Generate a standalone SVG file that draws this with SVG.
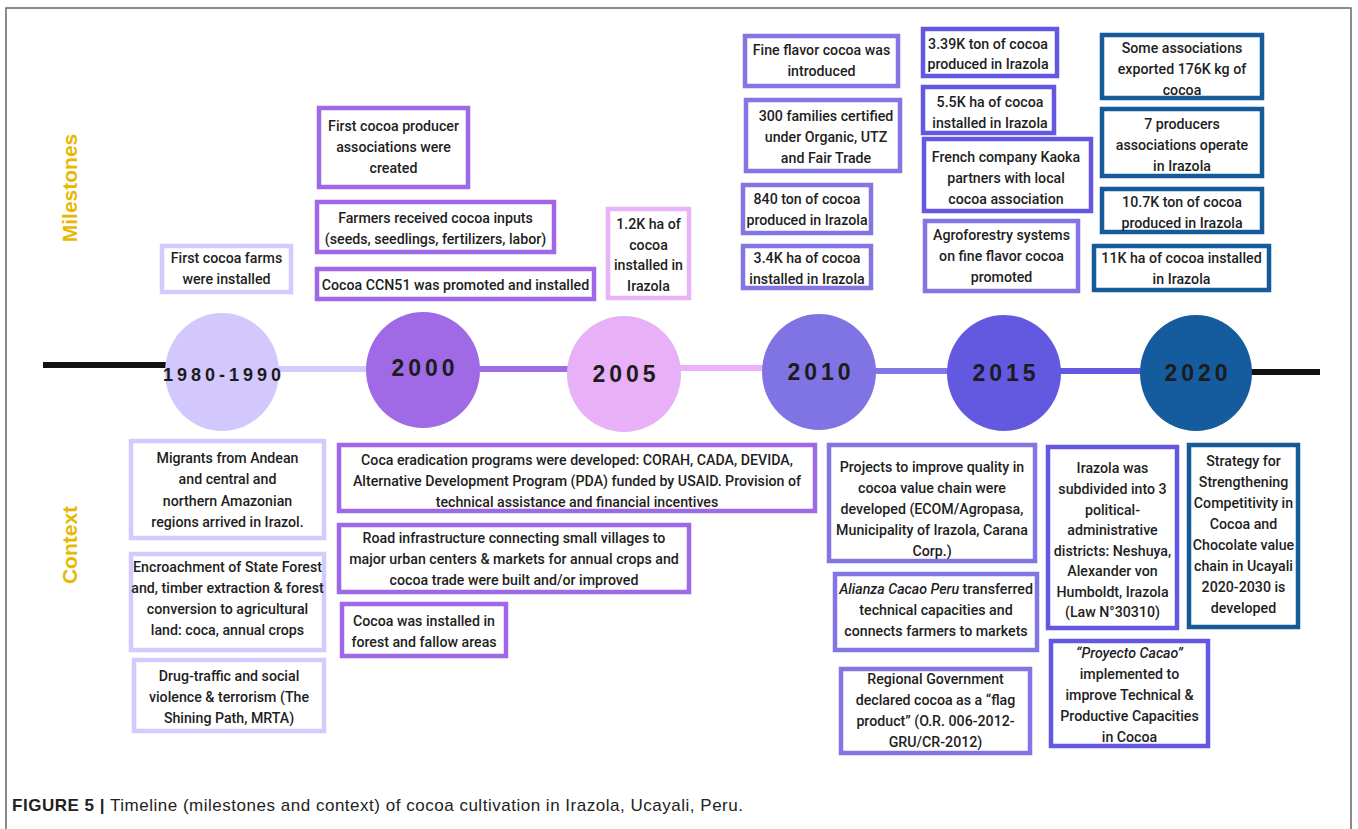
<svg xmlns="http://www.w3.org/2000/svg" width="1358" height="829" viewBox="0 0 1358 829">
<style>
.t{font-family:Roboto,"Liberation Sans",sans-serif;font-size:14.2px;font-weight:500;fill:#1e1e1e;text-anchor:middle}
.b{fill:#fff;stroke-width:4.5}
.lav{stroke:#d4cafd}.p00{stroke:#9f68e6}.pk{stroke:#e9b3f7}.p10{stroke:#8276e4}.p15{stroke:#6457e2}.bl{stroke:#155b99}
.yr{font-family:"Liberation Sans",Arial,sans-serif;font-weight:700;fill:#1c1c1c;text-anchor:middle;letter-spacing:4px}
.side{font-family:"Liberation Sans",Arial,sans-serif;font-weight:700;font-size:21px;fill:#e7b800;text-anchor:middle}
.cap{font-family:"Liberation Sans",Arial,sans-serif;font-size:17px;fill:#222}
</style>
<defs>
<clipPath id="clipC2"><rect x="131" y="554" width="194" height="96"/></clipPath>
</defs>
<rect x="6" y="8" width="1345" height="840" fill="none" stroke="#666" stroke-width="1.5"/>
<text class="side" transform="translate(77,188) rotate(-90)">Milestones</text>
<text class="side" transform="translate(77,545) rotate(-90)">Context</text>

<g id="connectors" stroke-width="6" fill="none">
<line x1="43" y1="365" x2="172" y2="365" stroke="#111"/>
<line x1="272" y1="369" x2="372" y2="369" stroke="#d4cafd"/>
<line x1="472" y1="369" x2="574" y2="369" stroke="#a06ae6"/>
<line x1="674" y1="368" x2="768" y2="368" stroke="#e9b3f7"/>
<line x1="870" y1="371" x2="952" y2="371" stroke="#8276e4"/>
<line x1="1055" y1="371" x2="1146" y2="371" stroke="#6457e2"/>
<line x1="1246" y1="372" x2="1320" y2="372" stroke="#111"/>
</g>

<g id="y1980"><ellipse cx="222" cy="372" rx="57" ry="59" fill="#d3c8fe"/><text class="yr" x="224" y="381" font-size="18" letter-spacing="3">1980-1990</text></g>
<g id="y2000"><ellipse cx="423" cy="370" rx="57" ry="58" fill="#a06ae6"/><text class="yr" x="425" y="376" font-size="23">2000</text></g>
<g id="y2005"><ellipse cx="624" cy="374" rx="57" ry="58" fill="#e8b0f7"/><text class="yr" x="626" y="382" font-size="23">2005</text></g>
<g id="y2010"><ellipse cx="819" cy="372" rx="57" ry="58" fill="#8074e4"/><text class="yr" x="821" y="380" font-size="23">2010</text></g>
<g id="y2015"><ellipse cx="1004" cy="373" rx="57" ry="58" fill="#6358e0"/><text class="yr" x="1006" y="381" font-size="23">2015</text></g>
<g id="y2020"><ellipse cx="1196" cy="373" rx="56" ry="58" fill="#145c9e"/><text class="yr" x="1198" y="381" font-size="23">2020</text></g>

<g id="m1"><rect class="b lav" x="162" y="246" width="129" height="46"/><text class="t"><tspan x="226.5" y="263">First cocoa farms</tspan><tspan x="226.5" y="284">were installed</tspan></text></g>
<g id="m2"><rect class="b p00" x="319" y="108" width="149" height="79"/><text class="t"><tspan x="393.5" y="131">First cocoa producer</tspan><tspan x="393.5" y="152">associations were</tspan><tspan x="393.5" y="173">created</tspan></text></g>
<g id="m3"><rect class="b p00" x="317" y="202" width="237" height="50"/><text class="t"><tspan x="435.5" y="223">Farmers received cocoa inputs</tspan><tspan x="435.5" y="244">(seeds, seedlings, fertilizers, labor)</tspan></text></g>
<g id="m4"><rect class="b p00" x="317" y="269" width="277" height="30"/><text class="t" x="455.5" y="289.5">Cocoa CCN51 was promoted and installed</text></g>
<g id="m5"><rect class="b pk" x="608" y="209" width="81" height="89"/><text class="t"><tspan x="648.5" y="228.5">1.2K ha of</tspan><tspan x="648.5" y="249.5">cocoa</tspan><tspan x="648.5" y="270">installed in</tspan><tspan x="648.5" y="291">Irazola</tspan></text></g>
<g id="m6"><rect class="b p10" x="745" y="36" width="153" height="50"/><text class="t"><tspan x="821.5" y="55">Fine flavor cocoa was</tspan><tspan x="821.5" y="76">introduced</tspan></text></g>
<g id="m7"><rect class="b p10" x="746" y="100" width="154" height="71"/><text class="t"><tspan x="826" y="121">300 families certified</tspan><tspan x="826" y="142">under Organic, UTZ</tspan><tspan x="826" y="163">and Fair Trade</tspan></text></g>
<g id="m8"><rect class="b p10" x="743" y="185" width="128" height="48"/><text class="t"><tspan x="807" y="204">840 ton of cocoa</tspan><tspan x="807" y="225">produced in Irazola</tspan></text></g>
<g id="m9"><rect class="b p10" x="743" y="246" width="128" height="42"/><text class="t"><tspan x="807" y="263">3.4K ha of cocoa</tspan><tspan x="807" y="284">installed in Irazola</tspan></text></g>
<g id="m10"><rect class="b p15" x="923" y="29" width="134" height="47"/><text class="t"><tspan x="988" y="48.5">3.39K ton of cocoa</tspan><tspan x="988" y="69">produced in Irazola</tspan></text></g>
<g id="m11"><rect class="b p15" x="923" y="87" width="131" height="46"/><text class="t"><tspan x="990" y="106.5">5.5K ha of cocoa</tspan><tspan x="990" y="127.5">installed in Irazola</tspan></text></g>
<g id="m12"><rect class="b p15" x="924" y="139" width="167" height="72"/><text class="t"><tspan x="1006" y="161.5">French company Kaoka</tspan><tspan x="1006" y="182.5">partners with local</tspan><tspan x="1006" y="203.5">cocoa association</tspan></text></g>
<g id="m13"><rect class="b p10" x="925" y="221" width="153" height="70"/><text class="t"><tspan x="1001.5" y="240">Agroforestry systems</tspan><tspan x="1001.5" y="261">on fine flavor cocoa</tspan><tspan x="1001.5" y="282">promoted</tspan></text></g>
<g id="m14"><rect class="b bl" x="1102" y="35" width="160" height="63"/><text class="t"><tspan x="1182" y="52.5">Some associations</tspan><tspan x="1182" y="73.5">exported 176K kg of</tspan><tspan x="1182" y="94.5">cocoa</tspan></text></g>
<g id="m15"><rect class="b bl" x="1102" y="109" width="160" height="67"/><text class="t"><tspan x="1182" y="128.5">7 producers</tspan><tspan x="1182" y="149.5">associations operate</tspan><tspan x="1182" y="170.5">in Irazola</tspan></text></g>
<g id="m16"><rect class="b bl" x="1102" y="189" width="160" height="43"/><text class="t"><tspan x="1182" y="206.5">10.7K ton of cocoa</tspan><tspan x="1182" y="227.5">produced in Irazola</tspan></text></g>
<g id="m17"><rect class="b bl" x="1094" y="246" width="175" height="44"/><text class="t"><tspan x="1181.5" y="262.5">11K ha of cocoa installed</tspan><tspan x="1181.5" y="283.5">in Irazola</tspan></text></g>

<g id="c1"><rect class="b lav" x="131" y="441" width="193" height="97"/><text class="t"><tspan x="227.5" y="462.5">Migrants from Andean</tspan><tspan x="227.5" y="484">and central and</tspan><tspan x="227.5" y="505.5">northern Amazonian</tspan><tspan x="227.5" y="527">regions arrived in Irazol.</tspan></text></g>
<g id="c2"><rect class="b lav" x="131" y="554" width="193" height="96"/><text class="t" clip-path="url(#clipC2)"><tspan x="227.5" y="571.5">Encroachment of State Forest</tspan><tspan x="227.5" y="592.5">and, timber extraction &amp; forest</tspan><tspan x="227.5" y="613.5">conversion to agricultural</tspan><tspan x="227.5" y="634.5">land: coca, annual crops</tspan></text></g>
<g id="c3"><rect class="b lav" x="134" y="660" width="190" height="71"/><text class="t"><tspan x="229" y="680.5">Drug-traffic and social</tspan><tspan x="229" y="701.5">violence &amp; terrorism (The</tspan><tspan x="229" y="722.5">Shining Path, MRTA)</tspan></text></g>
<g id="c4"><rect class="b p00" x="339" y="445" width="476" height="66"/><text class="t"><tspan x="577" y="464.5">Coca eradication programs were developed: CORAH, CADA, DEVIDA,</tspan><tspan x="577" y="486">Alternative Development Program (PDA) funded by USAID. Provision of</tspan><tspan x="577" y="507">technical assistance and financial incentives</tspan></text></g>
<g id="c5"><rect class="b p00" x="339" y="525" width="350" height="67"/><text class="t"><tspan x="514" y="542.5">Road infrastructure connecting small villages to</tspan><tspan x="514" y="563.5">major urban centers &amp; markets for annual crops and</tspan><tspan x="514" y="584.5">cocoa trade were built and/or improved</tspan></text></g>
<g id="c6"><rect class="b p00" x="342" y="604" width="164" height="52"/><text class="t"><tspan x="424" y="625.5">Cocoa was installed in</tspan><tspan x="424" y="646.5">forest and fallow areas</tspan></text></g>
<g id="c7"><rect class="b p10" x="829" y="445" width="206" height="116"/><text class="t"><tspan x="932" y="471.5">Projects to improve quality in</tspan><tspan x="932" y="492.5">cocoa value chain were</tspan><tspan x="932" y="513.5">developed (ECOM/Agropasa,</tspan><tspan x="932" y="534.5">Municipality of Irazola, Carana</tspan><tspan x="932" y="555.5">Corp.)</tspan></text></g>
<g id="c8"><rect class="b p10" x="835" y="574" width="202" height="76"/><text class="t"><tspan x="936" y="593.5"><tspan font-style="italic">Alianza Cacao Peru</tspan> transferred</tspan><tspan x="936" y="614.5">technical capacities and</tspan><tspan x="936" y="636">connects farmers to markets</tspan></text></g>
<g id="c9"><rect class="b p10" x="841" y="669" width="189" height="84"/><text class="t"><tspan x="935.5" y="683.5">Regional Government</tspan><tspan x="935.5" y="704.5">declared cocoa as a “flag</tspan><tspan x="935.5" y="725.5">product” (O.R. 006-2012-</tspan><tspan x="935.5" y="746.5">GRU/CR-2012)</tspan></text></g>
<g id="c10"><rect class="b p15" x="1048" y="447" width="129" height="181"/><text class="t"><tspan x="1112.5" y="473">Irazola was</tspan><tspan x="1112.5" y="494">subdivided into 3</tspan><tspan x="1112.5" y="514.5">political-</tspan><tspan x="1112.5" y="535">administrative</tspan><tspan x="1112.5" y="555.5">districts: Neshuya,</tspan><tspan x="1112.5" y="576">Alexander von</tspan><tspan x="1112.5" y="596.5">Humboldt, Irazola</tspan><tspan x="1112.5" y="617">(Law N°30310)</tspan></text></g>
<g id="c11"><rect class="b p15" x="1051" y="641" width="157" height="105"/><text class="t"><tspan x="1129.5" y="658" font-style="italic">“Proyecto Cacao”</tspan><tspan x="1129.5" y="679">implemented to</tspan><tspan x="1129.5" y="700">improve Technical &amp;</tspan><tspan x="1129.5" y="721">Productive Capacities</tspan><tspan x="1129.5" y="742">in Cocoa</tspan></text></g>
<g id="c12"><rect class="b bl" x="1189" y="445" width="109" height="182"/><text class="t"><tspan x="1243.5" y="466">Strategy for</tspan><tspan x="1243.5" y="487">Strengthening</tspan><tspan x="1243.5" y="508">Competitivity in</tspan><tspan x="1243.5" y="529">Cocoa and</tspan><tspan x="1243.5" y="550">Chocolate value</tspan><tspan x="1243.5" y="571">chain in Ucayali</tspan><tspan x="1243.5" y="592">2020-2030 is</tspan><tspan x="1243.5" y="613">developed</tspan></text></g>

<text class="cap" x="12" y="811" textLength="731" lengthAdjust="spacing"><tspan font-weight="700">FIGURE 5 |</tspan> Timeline (milestones and context) of cocoa cultivation in Irazola, Ucayali, Peru.</text>
</svg>
